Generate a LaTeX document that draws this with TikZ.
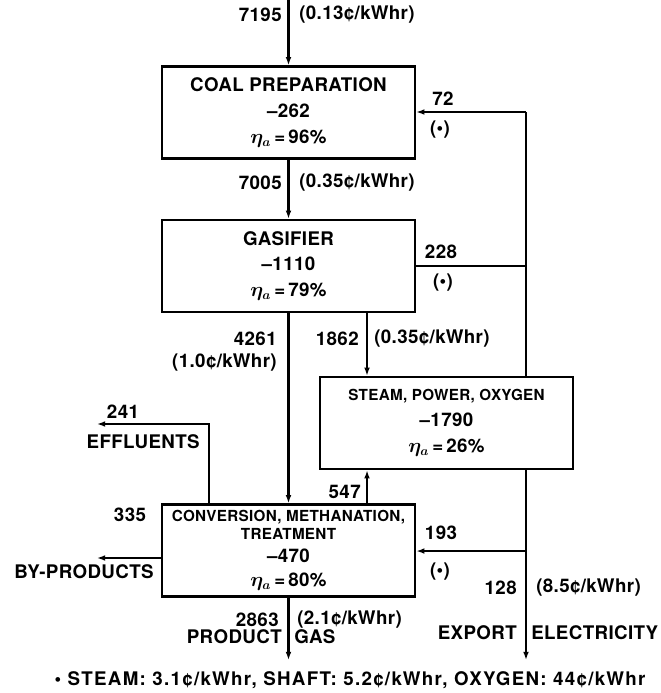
\documentclass[tikz,border=0pt]{standalone}
\usepackage{fontspec}
\setmainfont[LetterSpace=2]{TeX Gyre Heros}
\newfontfamily\unitfont[LetterSpace=2]{TeX Gyre Heros}
\newfontfamily\footfont[LetterSpace=7]{TeX Gyre Heros}
\usetikzlibrary{arrows.meta}
\newcommand{\effy}[1]{{\boldmath$\eta_{a}$}\,=\,#1\%}
\newcommand{\smalltxt}{\unitfont\bfseries\fontsize{13}{16}\selectfont}
\begin{document}
\begin{tikzpicture}[x=0.3mm, y=-0.3mm, line width=2.2pt,
    every node/.style={font=\fontsize{16}{22}\selectfont\bfseries, inner sep=0pt},
    unit/.style={draw, rectangle, minimum width=75.9mm, minimum height=27.6mm, align=center},
    flow/.style={-{Latex[length=7pt,width=5pt]}}]
    \useasboundingbox (0,0) rectangle (660,693);
    % Nodes
    \node[unit] (coal)  at (288.5,112.5) {COAL PREPARATION\\ –262\\ \effy{96}};
    \node[unit] (gas)   at (288.5,266)   {GASIFIER\\ –1110\\ \effy{79}};
    \node[unit] (steam) at (446.5,423)   {{\smalltxt STEAM, POWER, OXYGEN}\\ –1790\\ \effy{26}};
    \node[unit] (conv)  at (288.5,550.5) {{\smalltxt CONVERSION, METHANATION,}\\[-7pt]
        {\smalltxt TREATMENT}\\[-2pt] –470\\[-2pt] \effy{80}};
    % Free ends and bends
    \coordinate (top) at (288.5,0);
    \coordinate (pg)  at (288.5,660);
    \coordinate (s1)  at (367,340);
    \coordinate (b72)  at (526,112);
    \coordinate (b228) at (526,266);
    \coordinate (b193) at (526,551);
    \coordinate (ex)   at (526,660);
    \coordinate (ef)  at (209,424);
    \coordinate (efo) at (97,424);
    \coordinate (bp)  at (97,558);
    % Edges
    \draw[flow] (top) -- (coal);
    \draw[flow] (coal) -- (gas);
    \draw[flow] (gas) -- (conv);
    \draw[flow] (conv) -- (pg);
    \draw[flow] (gas.south -| s1) -- (steam.north -| s1);
    \draw[flow] (conv.north -| s1) -- (steam.south -| s1);
    \draw (steam.north -| b72) -- (b72);
    \draw[flow] (b72) -- (coal.east |- b72);
    \draw (b228) -- (gas.east |- b228);
    \draw[flow] (steam.south -| ex) -- (ex);
    \draw[flow] (b193) -- (conv.east |- b193);
    \draw[flow] (conv.north -| ef) -- (ef) -- (efo);
    \draw[flow] (conv.west |- bp) -- (bp);
    % Labels
    \node[anchor=east] (n7195) at (283,15) {7195};
    \node[anchor=west] (c7195) at (298,15) {(0.13¢/kWhr)};
    \node[anchor=east] (n7005) at (283,183) {7005};
    \node[anchor=west] (c7005) at (298,183) {(0.35¢/kWhr)};
    \node (n72)  at (443,99)  {72};
    \node (s72)  at (440,130) {(•)};
    \node (n228) at (441,252) {228};
    \node (s228) at (443,283) {(•)};
    \node (n193) at (441,533) {193};
    \node (s193) at (440,572) {(•)};
    \node[anchor=east] (n4261) at (278,339) {4261};
    \node[anchor=east] (c4261) at (278,363) {(1.0¢/kWhr)};
    \node[anchor=east] (n1862) at (360,339) {1862};
    \node[anchor=west] (c1862) at (373,339) {(0.35¢/kWhr)};
    \node[anchor=east] (n547)  at (362,492) {547};
    \node (n241) at (123,412) {241};
    \node[anchor=east] (effl) at (201,442) {EFFLUENTS};
    \node (n335) at (130,515) {335};
    \node[anchor=east] (byp) at (155,572) {BY-PRODUCTS};
    \node[anchor=east] (n2863) at (280,620) {2863};
    \node[anchor=west] (c2863) at (296,620) {(2.1¢/kWhr)};
    \node[anchor=east] (prod) at (283,637) {PRODUCT};
    \node[anchor=west] (gasw) at (293,637) {GAS};
    \node[anchor=east] (n128) at (518,588) {128};
    \node[anchor=west] (c128) at (535,588) {(8.5¢/kWhr)};
    \node[anchor=east] (expo) at (518,633) {EXPORT};
    \node[anchor=west] (elec) at (530,633) {ELECTRICITY};
    \node (foot) at (350,680) {\footfont • STEAM: 3.1¢/kWhr, SHAFT: 5.2¢/kWhr, OXYGEN: 44¢/kWhr};
\end{tikzpicture}
\end{document}
